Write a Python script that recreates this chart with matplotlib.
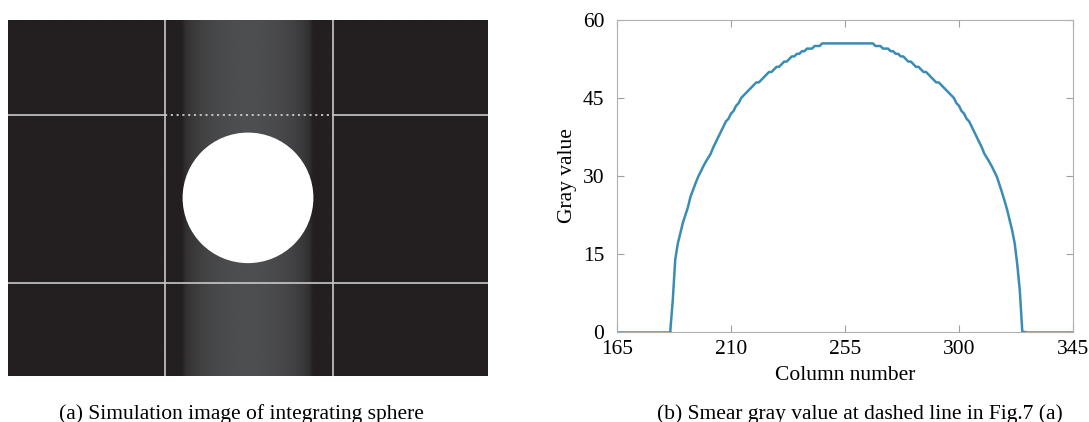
import numpy as np
import matplotlib
matplotlib.use('Agg')
import matplotlib.pyplot as plt
from matplotlib.patches import Circle

plt.rcParams['font.family'] = ['Liberation Serif', 'DejaVu Serif']

# smear gray value along the dashed row, columns 186..326
left_cols = list(range(186, 246))
left_vals = [0, 6, 14, 17, 19, 21, 22.5, 24, 26, 27.3,
             28.6, 29.8, 30.8, 31.8, 32.7, 33.5, 34.3, 35.5, 36.5, 37.5,
             38.5, 39.5, 40.5, 41, 42, 42.5, 43.5, 44, 45, 45.5,
             46, 46.5, 47, 47.5, 48, 48, 48.5, 49, 49.5, 50,
             50, 50.5, 51, 51, 51.5, 52, 52, 52.5, 53, 53,
             53.5, 53.5, 54, 54, 54.5, 54.5, 54.5, 55, 55, 55]
top_cols = list(range(246, 267))
top_vals = [55.5] * len(top_cols)
right_cols = list(range(267, 327))
right_vals = [55, 55, 55, 54.5, 54.5, 54.5, 54, 54, 53.5, 53.5,
              53, 53, 52.5, 52, 52, 51.5, 51, 51, 50.5, 50,
              50, 49.5, 49, 48.5, 48, 48, 47.5, 47, 46.5, 46,
              45.5, 45, 44, 43.5, 42.5, 42, 41, 40.5, 39.5, 38.5,
              37.5, 36.5, 35.5, 34.3, 33.5, 32.7, 31.8, 30.8, 29.8, 28.3,
              26.8, 25.2, 23.5, 21.5, 19.5, 17, 13, 8, 0, 0]

cols = np.array(left_cols + top_cols + right_cols)
vals = np.array(left_vals + top_vals + right_vals, dtype=float)

# simulated frame geometry (pixels)
img_w, img_h = 512, 380
grid_cols = [167, 347]
grid_rows = [101, 281]
sphere_center = (256, 190)
sphere_radius = 69

xticks = [165, 210, 255, 300, 345]
yticks = [0, 15, 30, 45, 60]

fs = 15.5
line_gray = '#c8c8c8'

fig = plt.figure(figsize=(10.89, 4.22), dpi=100)

# (a) simulated image: dark background plus the smear band
ax1 = fig.add_axes([8 / 1089, 1 - 375.7 / 422, 480 / 1089, 355.7 / 422])
bg = np.array([35, 31, 32]) / 255
peak = np.array([77, 78, 80]) / 255
profile = np.interp(np.arange(img_w) + 0.5, cols, vals, left=0, right=0)
row = bg[None, :] + (peak - bg)[None, :] * (profile / 55.5)[:, None]
frame = np.repeat(row[None, :, :], img_h, axis=0)
ax1.imshow(frame, extent=(0, img_w, img_h, 0), interpolation='bilinear', aspect='auto')
ax1.add_patch(Circle(sphere_center, sphere_radius, color='white', zorder=3))
for c in grid_cols:
    ax1.axvline(c, color=line_gray, lw=1.2, zorder=4)
r0 = grid_rows[0]
ax1.plot([0, grid_cols[0]], [r0, r0], color=line_gray, lw=1.2, zorder=4)
ax1.plot([grid_cols[1], img_w], [r0, r0], color=line_gray, lw=1.2, zorder=4)
ax1.plot(grid_cols, [r0, r0], color=line_gray, lw=1.3,
         linestyle=(0, (1.2, 2.0)), zorder=4)
ax1.axhline(grid_rows[1], color=line_gray, lw=1.2, zorder=4)
ax1.set_xlim(0, img_w)
ax1.set_ylim(img_h, 0)
ax1.axis('off')

# (b) gray value profile
ax2 = fig.add_axes([617 / 1089, 1 - 332 / 422, 456 / 1089, 312 / 422])
ax2.plot(cols, vals, color='#3a8cb5', lw=1.8)
ax2.plot([165, cols[0]], [0, 0], color='#3a8cb5', lw=1.8)
ax2.plot([cols[-1], 345], [0, 0], color='#3a8cb5', lw=1.8)
ax2.set_xlim(165, 345)
ax2.set_ylim(0, 60)
ax2.set_xticks(xticks)
ax2.set_yticks(yticks)
ax2.tick_params(direction='in', length=5, width=0.8, color='#a0a0a0',
                top=True, right=True, labelsize=fs)
ax2.tick_params(axis='x', pad=6)
ax2.tick_params(axis='y', pad=9)
for s in ax2.spines.values():
    s.set_color('#b0b0b0')
    s.set_linewidth(0.8)
ax2.set_xlabel('Column number', fontsize=fs, labelpad=5)
ax2.set_ylabel('Gray value', fontsize=fs, labelpad=4)

fig.text(241 / 1089, 1 - 419 / 422, '(a) Simulation image of integrating sphere',
         ha='center', va='baseline', fontsize=fs)
fig.text(860 / 1089, 1 - 419 / 422, '(b) Smear gray value at dashed line in Fig.7 (a)',
         ha='center', va='baseline', fontsize=fs)

fig.savefig('out.png', dpi=100)
